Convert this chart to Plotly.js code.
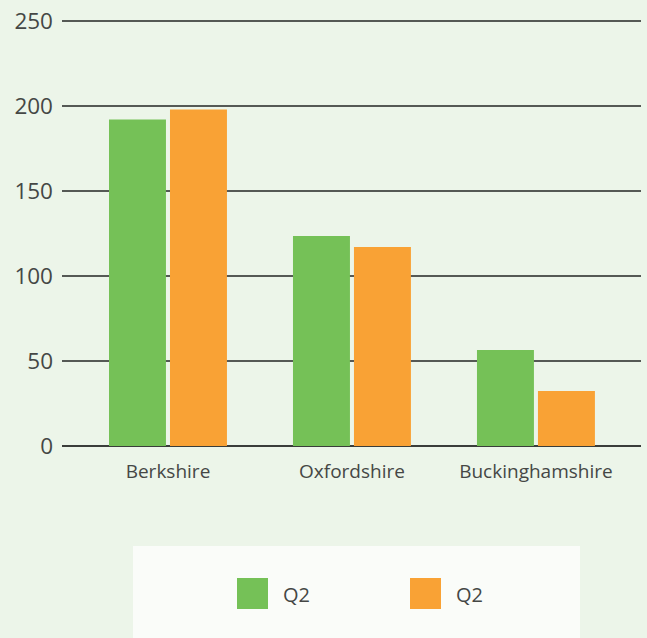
<!DOCTYPE html>
<html>
<head>
<meta charset="utf-8">
<script src="https://cdn.plot.ly/plotly-3.0.1.min.js"></script>
<style>html,body{margin:0;padding:0;background:#ecf5e9;}</style>
</head>
<body>
<div id="chart" style="width:647px;height:638px;"></div>
<script>
// ---- data ----
const categories = ["Berkshire", "Oxfordshire", "Buckinghamshire"];
const seriesNames = ["Q2", "Q2"];
const seriesA = [192, 123.5, 56.5];
const seriesB = [198, 117, 32.4];
const yTicks = [0, 50, 100, 150, 200, 250];

// ---- styling ----
const colors = ["#75c157", "#f9a235"];
const textColor = "#454745";
const W = 647, H = 638;
const M = {l: 62, r: 6, t: 20, b: 192};
const plotW = W - M.l - M.r, plotH = H - M.t - M.b;
const px = x => (x - M.l) / plotW;
const py = y => (H - M.b - y) / plotH;

const traces = [seriesA, seriesB].map((vals, i) => ({
  type: "bar",
  x: categories,
  y: vals,
  name: seriesNames[i],
  marker: {color: colors[i]},
  hoverinfo: "x+y+name",
  showlegend: false
}));

// legend drawn as box + swatches + labels
const shapes = [{
  type: "rect", xref: "paper", yref: "paper", layer: "below",
  x0: px(133), x1: px(580), y0: py(660), y1: py(546),
  fillcolor: "#fafcf9", line: {width: 0}
}];
const swatchX = [237, 410];
const annotations = [];
seriesNames.forEach((n, i) => {
  shapes.push({
    type: "rect", xref: "paper", yref: "paper",
    x0: px(swatchX[i]), x1: px(swatchX[i] + 31), y0: py(609), y1: py(578),
    fillcolor: colors[i], line: {width: 0}
  });
  annotations.push({
    xref: "paper", yref: "paper", x: px(swatchX[i] + 44), y: py(594),
    xanchor: "left", yanchor: "middle", showarrow: false, text: n,
    font: {family: "Open Sans", size: 20, color: textColor}
  });
});

const layout = {
  width: W, height: H,
  margin: M,
  paper_bgcolor: "#ecf5e9",
  plot_bgcolor: "#ecf5e9",
  barmode: "group",
  bargap: 0.337,
  bargroupgap: 0.066,
  font: {family: "Open Sans", color: textColor},
  xaxis: {
    range: [-0.576, 2.571],
    showgrid: false, showline: false, zeroline: false,
    ticks: "", tickfont: {family: "Open Sans", size: 19, color: textColor},
    ticklabelstandoff: 12, fixedrange: true
  },
  yaxis: {
    range: [0, 250.6],
    tickvals: yTicks,
    ticktext: yTicks.map(String),
    showgrid: true, gridcolor: "#555955", gridwidth: 1.4,
    zeroline: true, zerolinecolor: "#3a3d3a", zerolinewidth: 2.4,
    showline: false, ticks: "",
    tickfont: {family: "Open Sans", size: 22.5, color: textColor},
    ticklabelstandoff: 8, fixedrange: true
  },
  shapes: shapes,
  annotations: annotations,
  showlegend: false
};

Plotly.newPlot("chart", traces, layout, {displayModeBar: false, staticPlot: true});
</script>
</body>
</html>
